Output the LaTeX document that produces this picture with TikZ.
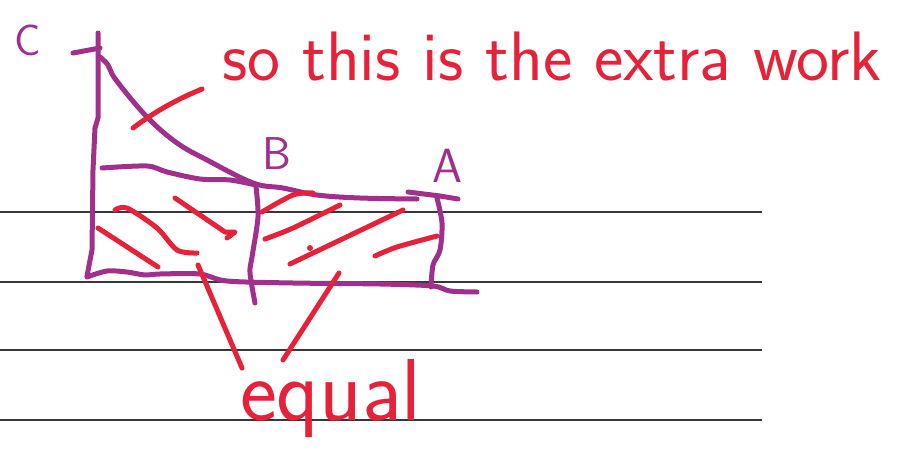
\documentclass[tikz,border=0pt]{standalone}
\usepackage{fontspec}
\usepackage{xcolor}
\definecolor{inkpurple}{RGB}{160,48,140}
\definecolor{inkred}{RGB}{230,34,58}
\definecolor{rulegray}{RGB}{55,55,55}
\usetikzlibrary{calc}

\begin{document}
\begin{tikzpicture}[x=1pt, y=-1pt,
  ruleline/.style={rulegray, line width=1.4pt},
  purplestroke/.style={inkpurple, line width=5pt, line cap=round, line join=round},
  redstroke/.style={inkred, line width=5pt, line cap=round, line join=round},
  inklabel/.style={font=\sffamily\fontsize{#1}{#1}\selectfont, inner sep=0pt}]

\useasboundingbox (0,0) rectangle (899,471);

% --- Ruled paper ---
\foreach \y in {212,282,350,420}
  \draw[ruleline] (0,\y) -- (762,\y);

% --- Axis and outline (purple) ---
\draw[purplestroke] (98,33) -- (98,118) -- (95,128) -- (93,170) -- (92,250) -- (87,276); % vertical axis
\draw[purplestroke] (73,53) -- (100,48); % top tick
\draw[purplestroke] plot[smooth, tension=0.6] coordinates {(100,57) (108,65) (116,80) (147,117) (177,143)
  (207,160) (253,183) (283,188) (317,195) (360,198) (417,199)}; % curve C to A
\draw[purplestroke] plot[smooth, tension=0.5] coordinates {(102,168) (147,166) (167,172) (200,179)
  (230,180) (256,185)}; % inner line
\draw[purplestroke] plot[smooth, tension=0.5] coordinates {(256,187) (258,217) (252,257) (250,273)
  (255,303)}; % vertical at B
\draw[purplestroke] plot[smooth, tension=0.5] coordinates {(87,277) (107,271) (127,272) (145,275)
  (160,274) (200,274) (227,281) (293,283) (380,284) (433,286) (450,291) (477,292)}; % bottom line
\draw[purplestroke] plot[smooth, tension=0.5] coordinates {(437,198) (442,223) (440,250) (433,265)
  (431,287)}; % vertical at A
\draw[purplestroke] (408,192) -- (440,196) -- (458,199); % tick at A

% --- Labels ---
\node[inklabel=44, inkpurple] (label-c) at (28,40) {C};
\node[inklabel=46, inkpurple] (label-b) at (277,154) {B};
\node[inklabel=48, inkpurple] (label-a) at (447,166) {A};
\node[inklabel=70, inkred, anchor=base west] (note) at (222,80) {so this is the extra work};
\node[inklabel=88, inkred, anchor=base west] (equal) at (240,420) {equal};

% --- Pointer to the extra work ---
\draw[redstroke] (133,128) .. controls (153,113) and (175,100) .. (202,89);

% --- Hatching, left part ---
\draw[redstroke] plot[smooth, tension=0.5] coordinates {(115,210) (127,208) (157,228) (177,250) (197,253)};
\draw[redstroke] (98,228) -- (158,267);
\draw[redstroke] (175,198) -- (225,232) -- (235,232) -- (227,238);

% --- Hatching, right part ---
\draw[redstroke] plot[smooth, tension=0.5] coordinates {(262,212) (293,195) (313,193)};
\draw[redstroke] plot[smooth, tension=0.5] coordinates {(265,239) (293,228) (340,205)};
\draw[redstroke] (290,264) -- (403,210);
\fill[inkred] (310,248) circle (3pt);
\draw[redstroke] plot[smooth, tension=0.5] coordinates {(375,256) (397,247) (437,236)};

% --- Pointers to "equal" ---
\coordinate (left-tip) at (242,368);
\coordinate (right-tip) at (283,360);
\draw[redstroke] (198,265) -- (left-tip);
\draw[redstroke] (339,273) -- (right-tip);

\end{tikzpicture}
\end{document}
